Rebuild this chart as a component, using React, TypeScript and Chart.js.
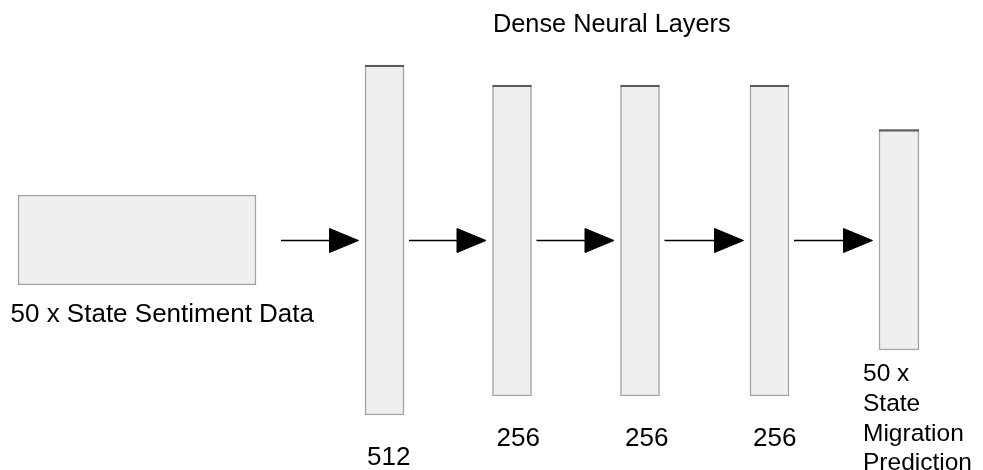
import React, { useEffect, useRef } from "react";
import { Chart, registerables } from "chart.js";

Chart.register(...registerables);

// ---- diagram data (coordinates in a 983 x 470 drawing space, y grows downward) ----
const titleText = "Dense Neural Layers";
const titleAnchor = [493, 32];

const inputLabel = "50 x State Sentiment Data";
const inputLabelAnchor = [10.5, 322];
const inputXSpan = [18, 256];
const inputYSpan = [195, 285];

const layerSizes = ["512", "256", "256", "256"];
const layerCenters = [384.5, 512, 640, 769.5];
const layerTops = [65, 85, 85, 85];
const layerBottoms = [415, 396, 396, 396];
const layerLabelX = [367, 496.5, 625, 753];
const layerLabelY = [465, 445.5, 445.5, 445.5];
const layerWidth = 39;

const outputCenter = 899;
const outputYSpan = [129.5, 350];
const outputWidth = 40;
const outputLabelLines = ["50 x", "State", "Migration", "Prediction"];
const outputLabelX = 863;
const outputLabelY = [381, 411, 441, 469.5];

const arrowY = 240.5;
const arrowGapsBefore = [25, 5, 5, 5, 5];
const arrowGapAfter = 6.5;
const arrowHeadLength = 29;
const arrowHeadHalf = 12;

const FONT = '"Liberation Sans", Arial, sans-serif';

export default function App() {
  const canvasRef = useRef<HTMLCanvasElement | null>(null);

  useEffect(() => {
    const canvas = canvasRef.current;
    if (!canvas) return;

    // box edges in order, used to build the connecting arrows
    const boxes: [number, number][] = [
      [inputXSpan[0], inputXSpan[1]],
      ...layerCenters.map((c) => [c - layerWidth / 2, c + layerWidth / 2] as [number, number]),
      [outputCenter - outputWidth / 2, outputCenter + outputWidth / 2],
    ];

    const datasets: any[] = [];
    const boxStyle = {
      type: "bar",
      backgroundColor: "#efefef",
      borderColor: "#a3a3a3",
      borderWidth: 1.5,
      borderSkipped: false,
      grouped: false,
      order: 10,
    };

    datasets.push({
      ...boxStyle,
      data: [{ x: (inputXSpan[0] + inputXSpan[1]) / 2, y: [inputYSpan[0], inputYSpan[1]] }],
      barThickness: inputXSpan[1] - inputXSpan[0],
    });
    datasets.push({
      ...boxStyle,
      data: layerCenters.map((c, i) => ({ x: c, y: [layerTops[i], layerBottoms[i]] })),
      barThickness: layerWidth,
    });
    datasets.push({
      ...boxStyle,
      data: [{ x: outputCenter, y: [outputYSpan[0], outputYSpan[1]] }],
      barThickness: outputWidth,
    });

    // darker top edges of the dense layers and output
    const topEdges: [number, number, number][] = [
      ...layerCenters.map((c, i) => [c, layerTops[i], layerWidth] as [number, number, number]),
      [outputCenter, outputYSpan[0], outputWidth],
    ];
    topEdges.forEach(([c, t, w]) => {
      datasets.push({
        type: "line",
        data: [
          { x: c - w / 2, y: t + 1 },
          { x: c + w / 2, y: t + 1 },
        ],
        borderColor: "#5a5a5a",
        borderWidth: 2,
        pointRadius: 0,
        fill: false,
        order: 1,
      });
    });

    // arrows between consecutive boxes
    for (let i = 0; i < boxes.length - 1; i++) {
      const start = boxes[i][1] + arrowGapsBefore[i];
      const tip = boxes[i + 1][0] - arrowGapAfter;
      const base = tip - arrowHeadLength;
      datasets.push({
        type: "line",
        data: [
          { x: start, y: arrowY },
          { x: base + 2, y: arrowY },
        ],
        borderColor: "#000",
        borderWidth: 1.3,
        pointRadius: 0,
        fill: false,
        order: 1,
      });
      datasets.push({
        type: "line",
        data: [
          { x: base, y: arrowY - arrowHeadHalf },
          { x: tip, y: arrowY },
          { x: base, y: arrowY + arrowHeadHalf },
          { x: base, y: arrowY - arrowHeadHalf },
        ],
        borderColor: "#000",
        backgroundColor: "#000",
        borderWidth: 1,
        pointRadius: 0,
        fill: "shape",
        order: 1,
      });
    }

    const textPlugin = {
      id: "diagramText",
      afterDatasetsDraw(chart: any) {
        const { ctx, scales } = chart;
        const xs = scales.x;
        const ys = scales.y;
        const put = (t: string, x: number, y: number, size: number) => {
          ctx.save();
          ctx.font = `${size}px ${FONT}`;
          ctx.fillStyle = "#000";
          ctx.textAlign = "left";
          ctx.textBaseline = "alphabetic";
          ctx.fillText(t, xs.getPixelForValue(x), ys.getPixelForValue(y));
          ctx.restore();
        };
        put(titleText, titleAnchor[0], titleAnchor[1], 25.3);
        put(inputLabel, inputLabelAnchor[0], inputLabelAnchor[1], 26);
        layerSizes.forEach((s, i) => put(s, layerLabelX[i], layerLabelY[i], 26));
        outputLabelLines.forEach((s, i) => put(s, outputLabelX, outputLabelY[i], 24.5));
      },
    };

    const chart = new Chart(canvas, {
      type: "bar",
      data: { datasets },
      options: {
        animation: false,
        responsive: false,
        events: [],
        layout: { padding: 0 },
        plugins: {
          legend: { display: false },
          tooltip: { enabled: false },
          title: { display: false },
        },
        scales: {
          x: { type: "linear", min: 0, max: 983, offset: false, display: false },
          y: { type: "linear", min: 0, max: 470, reverse: true, display: false },
        },
      },
      plugins: [textPlugin],
    } as any);

    return () => chart.destroy();
  }, []);

  return (
    <div style={{ position: "fixed", left: 0, top: 0, width: 983, height: 470, background: "#fff" }}>
      <canvas ref={canvasRef} width={983} height={470} style={{ width: 983, height: 470, display: "block" }} />
    </div>
  );
}
